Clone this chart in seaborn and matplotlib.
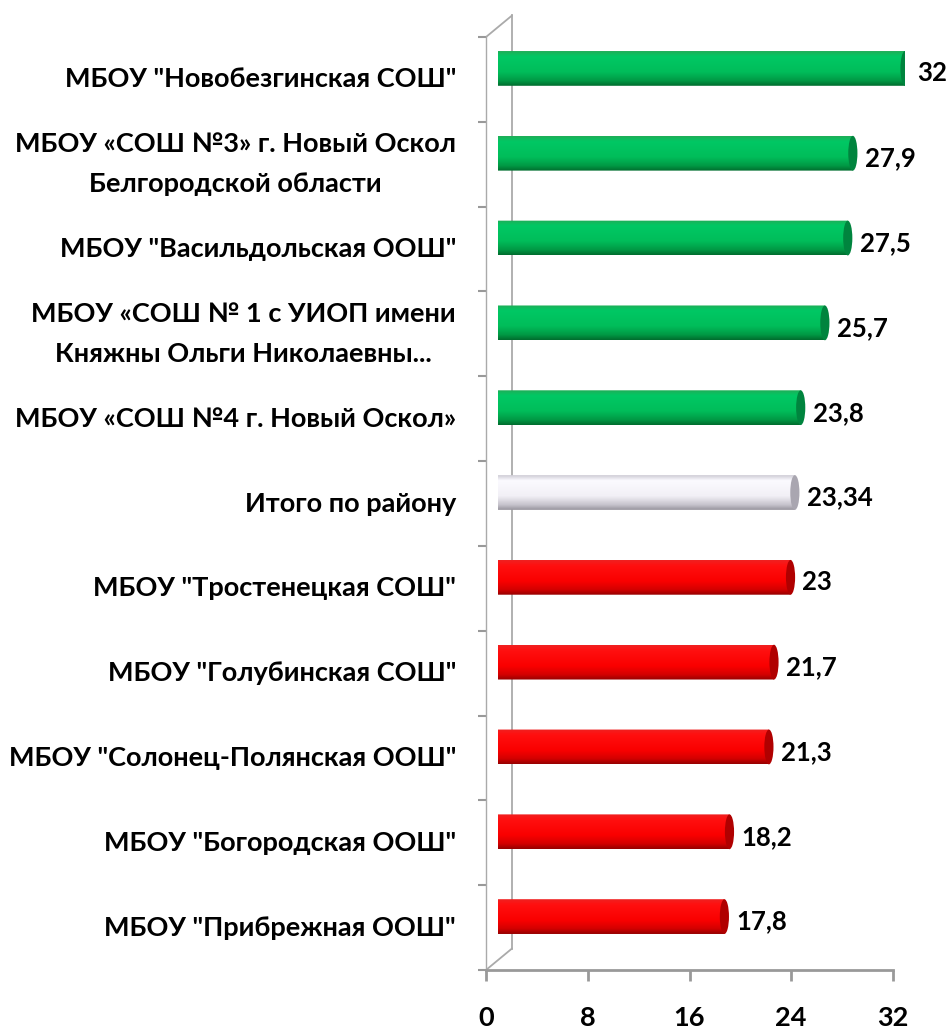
import numpy as np
import pandas as pd
import matplotlib
matplotlib.use('Agg')
import matplotlib.pyplot as plt
import seaborn as sns
from matplotlib.colors import LinearSegmentedColormap
from matplotlib.patches import Ellipse, PathPatch, ConnectionPatch
from matplotlib.path import Path

# --- data ---
schools = [
    'МБОУ "Новобезгинская СОШ"',
    'МБОУ «СОШ №3» г. Новый Оскол\nБелгородской области',
    'МБОУ "Васильдольская ООШ"',
    'МБОУ «СОШ № 1 с УИОП имени\nКняжны Ольги Николаевны...',
    'МБОУ «СОШ №4 г. Новый Оскол»',
    'Итого по району',
    'МБОУ "Тростенецкая СОШ"',
    'МБОУ "Голубинская СОШ"',
    'МБОУ "Солонец-Полянская ООШ"',
    'МБОУ "Богородская ООШ"',
    'МБОУ "Прибрежная ООШ"',
]
scores = [32, 27.9, 27.5, 25.7, 23.8, 23.34, 23, 21.7, 21.3, 18.2, 17.8]
groups = ['above'] * 5 + ['total'] + ['below'] * 5
x_ticks = [0, 8, 16, 24, 32]

# cylinder shading, top -> bottom
shade_pos = [0, 0.15, 0.6, 0.85, 1]
shades = {
    'above': ['#1fae58', '#00c864', '#00bd5a', '#009a45', '#006d2e'],
    'total': ['#cfcdd6', '#fbfaff', '#f2f0f6', '#c8c5ce', '#99969f'],
    'below': ['#f02020', '#ff1010', '#fa0000', '#d40000', '#970000'],
}
caps = {'above': '#00843e', 'total': '#a9a6b0', 'below': '#b00000'}
flat = {'above': '#00b050', 'total': '#e6e4ea', 'below': '#ff0000'}

df = pd.DataFrame({'school': schools, 'score': scores, 'group': groups})

sns.set_theme(style='white')
plt.rcParams['font.family'] = ['Lato', 'DejaVu Sans']

W, H = 951, 1033
fig = plt.figure(figsize=(W / 100, H / 100), dpi=100)

# front face of the 3d box in pixels
left, right, top, bottom = 486, 893, 37, 970


def box(dx=0, dy=0):
    return [(left + dx) / W, (H - bottom + dy) / H, (right - left) / W, (bottom - top) / H]


ax_back = fig.add_axes(box(26, 21.5), zorder=0)
ax = fig.add_axes(box(), zorder=1)
ax_bar = fig.add_axes(box(12, 11), zorder=2)
for a in (ax_back, ax, ax_bar):
    a.patch.set_visible(False)
    a.set_xlim(0, 32)

sns.barplot(data=df, x='score', y='school', hue='group', palette=flat,
            width=0.41, dodge=False, legend=False, orient='h', ax=ax_bar)
ylim = (len(schools) - 0.5, -0.5)

# turn flat bars into cylinders
ew = 0.36
for p in list(ax_bar.patches):
    x0, w, y0, h = p.get_x(), p.get_width(), p.get_y(), p.get_height()
    if w <= 0:
        continue
    x1, yc = x0 + w, y0 + h / 2
    grp = groups[int(round(yc))]
    p.set_visible(False)
    t = np.linspace(np.pi / 2, 3 * np.pi / 2, 40)
    verts = list(zip(x0 + ew * np.cos(t), yc - h / 2 * np.sin(t)))
    verts += [(x1, y0 + h), (x1, y0), verts[0]]
    clip = PathPatch(Path(verts), transform=ax_bar.transData, facecolor='none', edgecolor='none')
    ax_bar.add_patch(clip)
    cmap = LinearSegmentedColormap.from_list(grp, list(zip(shade_pos, shades[grp])))
    im = ax_bar.imshow(np.linspace(0, 1, 64).reshape(-1, 1), cmap=cmap, aspect='auto',
                       extent=(x0 - ew, x1 + ew, y0 + h, y0), origin='upper',
                       interpolation='bilinear', zorder=3)
    im.set_clip_path(clip)
    ax_bar.add_patch(Ellipse((x1, yc), 2 * ew, h, facecolor=caps[grp],
                             edgecolor='none', zorder=4))
    lab = f'{scores[int(round(yc))]:g}'.replace('.', ',')
    ax_bar.annotate(lab, (x1, yc), xytext=(8.6, -3.6), textcoords='offset points',
                    ha='left', va='center', fontsize=18.5, fontweight='bold', color='black')

ax_bar.set_xlim(0, 32)
ax_bar.set_ylim(*ylim)
ax_bar.axis('off')

# front frame: category axis + value axis
grey = '#999999'
ax.set_ylim(*ylim)
ax.set_yticks(range(len(schools)))
ax.set_yticklabels(schools, fontsize=19.5, fontweight='bold', multialignment='center',
                   linespacing=1.8, va='center')
ax.set_yticks(np.arange(-0.5, len(schools), 1), minor=True)
ax.tick_params(axis='y', which='major', length=0, pad=21.6, labelcolor='black')
ax.tick_params(axis='y', which='minor', left=True, length=5.8, width=1.5, color=grey)
ax.set_xticks(x_ticks)
ax.set_xticklabels([str(v) for v in x_ticks], fontsize=19.5, fontweight='bold')
ax.tick_params(axis='x', bottom=True, length=8, width=2, color=grey, pad=18, labelcolor='black')
for s in ('top', 'right'):
    ax.spines[s].set_visible(False)
ax.spines['left'].set_color('#aaaaaa')
ax.spines['left'].set_linewidth(1)
ax.spines['bottom'].set_color(grey)
ax.spines['bottom'].set_linewidth(2)
ax.set_xlabel('')
ax.set_ylabel('')
ax.grid(False)

# back wall of the box
ax_back.set_ylim(*ylim)
ax_back.set_xticks([])
ax_back.set_yticks([])
for s in ('top', 'right', 'bottom'):
    ax_back.spines[s].set_visible(False)
ax_back.spines['left'].set_color('#aaaaaa')
ax_back.spines['left'].set_linewidth(1.3)
for yy in ylim:
    fig.add_artist(ConnectionPatch(xyA=(0, yy), coordsA=ax.transData,
                                   xyB=(0, yy), coordsB=ax_back.transData,
                                   color='#aaaaaa', lw=1.3))

fig.savefig('out.png', dpi=100)
plt.close(fig)
